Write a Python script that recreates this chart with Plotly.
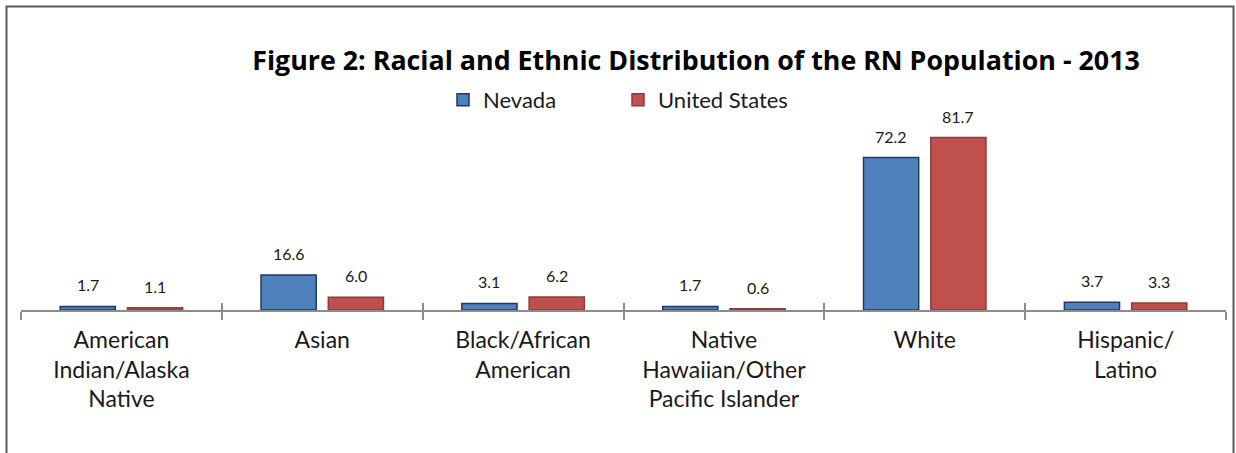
import plotly.graph_objects as go

categories = ["American<br>Indian/Alaska<br>Native", "Asian", "Black/African<br>American",
              "Native<br>Hawaiian/Other<br>Pacific Islander", "White", "Hispanic/<br>Latino"]
nevada = [1.7, 16.6, 3.1, 1.7, 72.2, 3.7]
united_states = [1.1, 6.0, 6.2, 0.6, 81.7, 3.3]
series_names = ["Nevada", "United States"]
title_text = "Figure 2: Racial and Ethnic Distribution of the RN Population - 2013"

W, H = 1236, 453
ML, MR, MT, MB = 21, 10, 120, 143
plot_w = W - ML - MR
plot_h = H - MT - MB
BARGAP, BARGROUPGAP = 0.33, 0.18
FONT = "Lato"

fill_colors = ["#4F81BD", "#C0504D"]
line_colors = ["#20395F", "#8E3B39"]

fig = go.Figure()
for name, vals, fc, lc in zip(series_names, [nevada, united_states], fill_colors, line_colors):
    fig.add_trace(go.Bar(x=categories, y=vals, name=name,
                         marker=dict(color=fc, line=dict(color=lc, width=1.5))))

# data labels above bars
cat_px = plot_w / len(categories)
slot = cat_px * (1 - BARGAP) / 2
for i, vals in enumerate([nevada, united_states]):
    shift = (i - 0.5) * slot
    for c, v in zip(categories, vals):
        fig.add_annotation(x=c, y=v, text=f"{v:.1f}", showarrow=False,
                           xshift=shift, yshift=10, yanchor="bottom",
                           font=dict(family=FONT, size=16, color="#1a1a1a"))

# border frame
def px_to_paper_x(px):
    return (px - ML) / plot_w
def px_to_paper_y(py):
    return (H - MB - py) / plot_h

fig.add_shape(type="rect", xref="paper", yref="paper",
              x0=px_to_paper_x(6.5), x1=px_to_paper_x(1233.5),
              y0=px_to_paper_y(470), y1=px_to_paper_y(6.5),
              line=dict(color="#595959", width=2), fillcolor="rgba(0,0,0,0)")

n = len(categories)
fig.update_layout(
    width=W, height=H,
    margin=dict(l=ML, r=MR, t=MT, b=MB),
    paper_bgcolor="white", plot_bgcolor="white",
    barmode="group", bargap=BARGAP, bargroupgap=BARGROUPGAP,
    title=dict(text=f"<b>{title_text}</b>", x=696 / W, xanchor="center",
               y=1 - 61 / H, yanchor="middle",
               font=dict(family="Open Sans", size=26.8, color="#000000")),
    legend=dict(orientation="h", x=px_to_paper_x(443), xanchor="left",
                y=px_to_paper_y(100), yanchor="middle",
                entrywidth=130, entrywidthmode="pixels",
                font=dict(family=FONT, size=22, color="#1a1a1a"),
                bgcolor="rgba(0,0,0,0)"),
    showlegend=True,
    xaxis=dict(type="category", categoryarray=categories, range=[-0.5, n - 0.5],
               showline=True, linecolor="#8c8c8c", linewidth=2,
               ticks="outside", tickson="boundaries", ticklen=8, tickwidth=2, tickcolor="#8c8c8c",
               ticklabelstandoff=8,
               tickfont=dict(family=FONT, size=23, color="#1a1a1a"),
               showgrid=False, zeroline=False),
    xaxis2=dict(overlaying="x", side="bottom", range=[-0.5, n - 0.5],
                tickmode="array", tickvals=[i - 0.5 for i in range(n + 1)],
                ticks="inside", ticklen=7, tickwidth=2, tickcolor="#8c8c8c",
                showticklabels=False, showline=False, showgrid=False, zeroline=False),
    yaxis=dict(range=[0, 90], visible=False, showgrid=False, zeroline=False),
)
# invisible trace to activate xaxis2
fig.add_trace(go.Scatter(x=[-0.5, n - 0.5], y=[0, 0], xaxis="x2", mode="none",
                         showlegend=False, hoverinfo="skip"))

fig.write_html("out.html", config={"displayModeBar": False},
               post_script="document.body.style.margin='0';document.body.style.overflow='hidden';")
